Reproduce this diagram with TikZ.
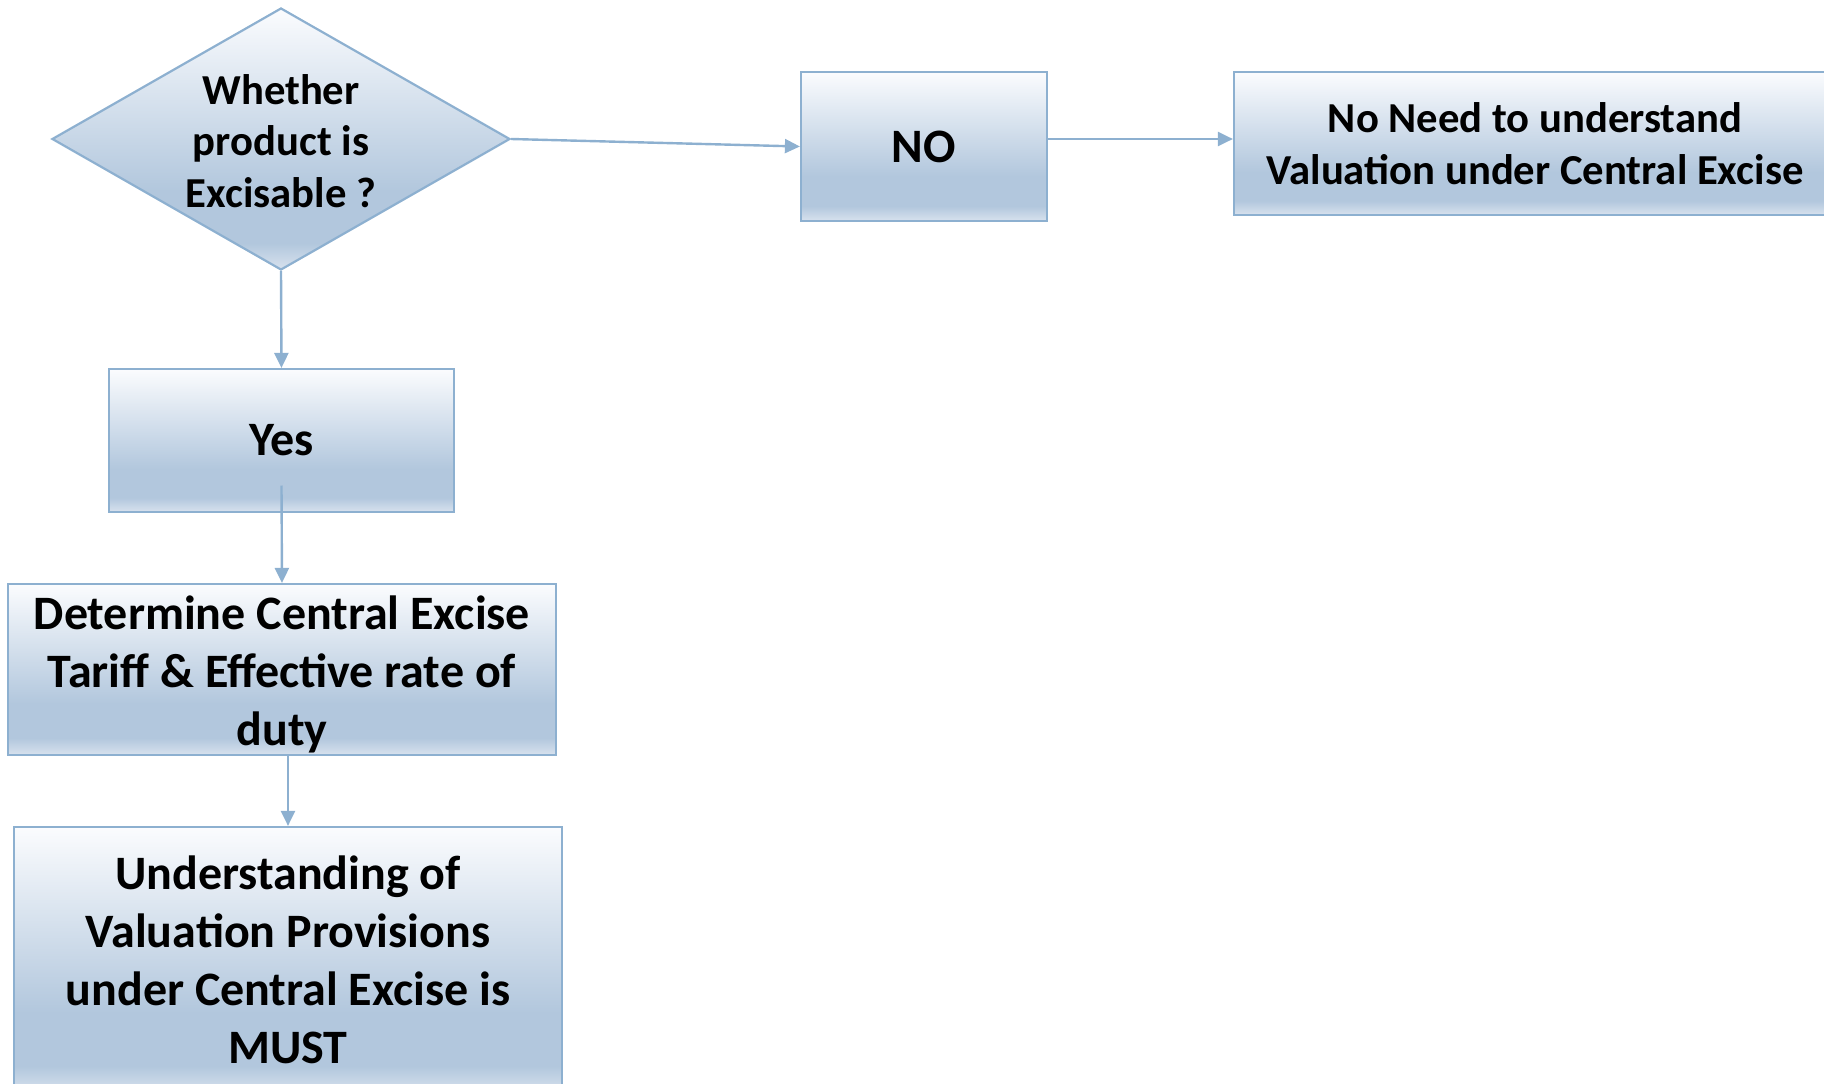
\documentclass[tikz,border=0pt]{standalone}
\usepackage{fontspec}
\setmainfont{Carlito}
\usetikzlibrary{shapes.geometric,arrows.meta,calc}
\definecolor{edgeblue}{HTML}{8DB0D0}
\definecolor{shbot}{HTML}{D8E2EE}
\definecolor{shdark}{HTML}{B2C7DD}
\definecolor{shtop}{HTML}{FBFCFE}
\pgfdeclareverticalshading{boxshade}{100bp}{color(0bp)=(shbot); color(25bp)=(shbot); color(30bp)=(shdark); color(40bp)=(shdark); color(75bp)=(shtop); color(100bp)=(shtop)}
\tikzset{
  flowbox/.style={draw=edgeblue, line width=2.2pt, shading=boxshade, rectangle, inner sep=0pt, align=center},
  decisionbox/.style={draw=edgeblue, line width=2.2pt, shading=boxshade, diamond, inner sep=0pt, align=center},
  bigtext/.style={font={\fontsize{48}{58}\selectfont\bfseries}},
  midtext/.style={font={\fontsize{42.7}{51.5}\selectfont\bfseries}},
  flowarrow/.style={draw=edgeblue, line width=2.4pt, -{Triangle[length=15pt,width=14pt]}}
}
\begin{document}
\begin{tikzpicture}[x=1pt,y=-1pt]
\useasboundingbox (0,0) rectangle (1824,1084);
\clip (0,0) rectangle (1824,1084);
\node[decisionbox, midtext, minimum width=458pt, minimum height=262pt, aspect=1.75] (d) at (281,139) {};
\node[midtext, align=center, inner sep=0pt] (dt) at (281,141) {Whether\\product is\\Excisable ?};
\node[flowbox, bigtext, minimum width=246pt, minimum height=149pt] (no) at (924,146.5) {NO};
\node[flowbox, midtext, minimum width=602pt, minimum height=143pt] (nn) at (1535,143.5)
  {No Need to understand\\Valuation under Central Excise};
\node[flowbox, bigtext, minimum width=345pt, minimum height=143pt] (yes) at (281.5,440.5) {Yes};
\node[flowbox, bigtext, minimum width=548pt, minimum height=171pt] (det) at (282,669.5) {};
\node[bigtext, align=center, inner sep=0pt] (dett) at (282,674.5)
  {Determine Central Excise\\Tariff \& Effective rate of\\duty};
\node[flowbox, bigtext, minimum width=548pt, minimum height=266pt] (und) at (288,960)
  {Understanding of\\Valuation Provisions\\under Central Excise is\\MUST};
\draw[flowarrow] (d.east) -- (no.west);
\draw[flowarrow] (no.east |- d.east) -- (nn.west |- d.east);
\draw[flowarrow] (d.south) -- (yes.north);
\draw[flowarrow] ($(yes.center)+(0,45)$) -- (det.north);
\draw[flowarrow] (det.south -| und.north) -- (und.north);
\end{tikzpicture}
\end{document}
